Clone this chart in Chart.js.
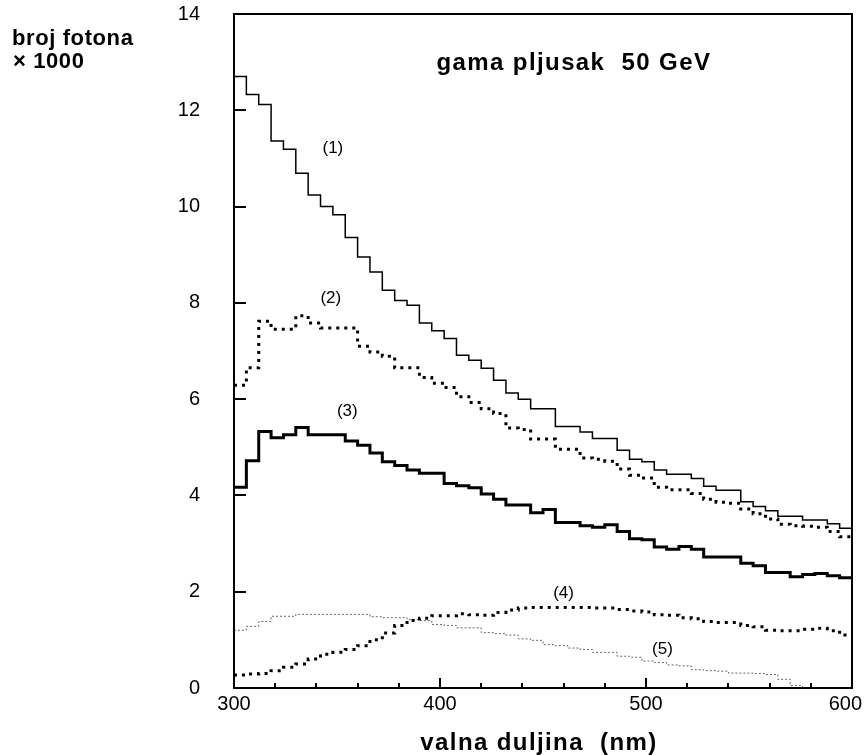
<!DOCTYPE html>
<html lang="hr">
<head>
    <meta charset="UTF-8">
    <title>gama pljusak 50 GeV</title>
    <script src="https://cdn.jsdelivr.net/npm/chart.js"></script>
    <style>
        html, body { margin: 0; padding: 0; background: #fff; }
        #chartContainer { width: 864px; height: 755px; }
    </style>
</head>
<body>
    <div id="chartContainer">
        <canvas id="chartCanvas" width="864" height="755"></canvas>
    </div>

    <script>
        // bin edges (nm), 6 nm wide bins
        const wavelength = [300, 306, 312, 318, 324, 330, 336, 342, 348, 354,
                            360, 366, 372, 378, 384, 390, 396, 402, 408, 414,
                            420, 426, 432, 438, 444, 450, 456, 462, 468, 474,
                            480, 486, 492, 498, 504, 510, 516, 522, 528, 534,
                            540, 546, 552, 558, 564, 570, 576, 582, 588, 594, 600];

        // number of photons x1000 per bin
        const photons1 = [12.70, 12.33, 12.12, 11.36, 11.19, 10.69, 10.24, 10.00, 9.83, 9.36,
                          8.95, 8.64, 8.26, 8.05, 7.95, 7.58, 7.42, 7.26, 6.91, 6.81,
                          6.64, 6.39, 6.13, 6.00, 5.80, 5.80, 5.43, 5.43, 5.32, 5.18,
                          5.18, 4.94, 4.75, 4.70, 4.53, 4.44, 4.44, 4.35, 4.19, 4.11,
                          4.11, 3.87, 3.77, 3.68, 3.57, 3.57, 3.49, 3.49, 3.41, 3.32];
        const photons2 = [6.29, 6.65, 7.62, 7.45, 7.45, 7.73, 7.58, 7.48, 7.48, 7.48,
                          7.10, 6.98, 6.89, 6.65, 6.65, 6.45, 6.33, 6.24, 6.05, 5.93,
                          5.80, 5.70, 5.40, 5.37, 5.17, 5.17, 4.96, 4.96, 4.78, 4.75,
                          4.71, 4.55, 4.42, 4.36, 4.17, 4.12, 4.12, 4.04, 3.92, 3.86,
                          3.84, 3.72, 3.62, 3.51, 3.40, 3.37, 3.36, 3.34, 3.25, 3.14];
        const photons3 = [4.17, 4.72, 5.33, 5.20, 5.26, 5.41, 5.26, 5.26, 5.26, 5.13,
                          5.04, 4.88, 4.70, 4.62, 4.53, 4.46, 4.46, 4.25, 4.20, 4.16,
                          4.03, 3.92, 3.80, 3.80, 3.64, 3.71, 3.44, 3.44, 3.37, 3.34,
                          3.39, 3.25, 3.10, 3.08, 2.93, 2.88, 2.94, 2.88, 2.72, 2.72,
                          2.72, 2.59, 2.54, 2.40, 2.40, 2.31, 2.36, 2.38, 2.33, 2.29];
        const photons4 = [0.27, 0.29, 0.30, 0.36, 0.43, 0.50, 0.60, 0.70, 0.74, 0.80,
                          0.88, 1.00, 1.14, 1.30, 1.40, 1.45, 1.50, 1.50, 1.54, 1.52,
                          1.51, 1.57, 1.62, 1.66, 1.67, 1.67, 1.67, 1.67, 1.67, 1.66,
                          1.66, 1.63, 1.60, 1.58, 1.52, 1.51, 1.46, 1.44, 1.38, 1.36,
                          1.36, 1.30, 1.27, 1.20, 1.19, 1.19, 1.22, 1.24, 1.19, 1.10];
        const photons5 = [1.20, 1.28, 1.38, 1.49, 1.49, 1.53, 1.53, 1.53, 1.53, 1.53,
                          1.53, 1.48, 1.46, 1.46, 1.42, 1.40, 1.32, 1.30, 1.25, 1.25,
                          1.15, 1.13, 1.10, 1.02, 0.99, 0.90, 0.88, 0.83, 0.80, 0.74,
                          0.74, 0.66, 0.64, 0.56, 0.53, 0.48, 0.46, 0.38, 0.36, 0.35,
                          0.31, 0.31, 0.30, 0.28, 0.18, 0.05, 0, 0, 0, 0];

        // curve labels and where they sit (nm, photons x1000)
        const curveLabels = ['(1)', '(2)', '(3)', '(4)', '(5)'];
        const labelNm = [348, 347, 355, 460, 508];
        const labelVal = [11.22, 8.1, 5.75, 1.96, 0.81];

        const chartTitle = 'gama pljusak  50 GeV';
        const xTitle = 'valna duljina  (nm)';
        const yTitle = ['broj fotona', '\u00d7 1000'];
        const minorStep = 20;

        const fontFamily = 'Arial, "Liberation Sans", sans-serif';
        Chart.defaults.font.family = fontFamily;
        Chart.defaults.color = '#000';

        function histPoints(values) {
            // one point per bin edge, last value repeated at the closing edge
            return wavelength.map((w, i) => ({ x: w, y: values[Math.min(i, values.length - 1)] }));
        }

        function setSpacing(ctx, px) {
            if ('letterSpacing' in ctx) ctx.letterSpacing = px + 'px';
        }

        const decorPlugin = {
            id: 'decor',
            afterDatasetsDraw(chart) {
                const { ctx, chartArea: a, scales: { x, y } } = chart;
                ctx.save();
                ctx.strokeStyle = '#000';
                ctx.lineWidth = 2;
                ctx.strokeRect(a.left, a.top, a.right - a.left, a.bottom - a.top);

                // inward ticks
                ctx.beginPath();
                y.ticks.forEach(t => {
                    const py = Math.round(y.getPixelForValue(t.value));
                    ctx.moveTo(a.left, py);
                    ctx.lineTo(a.left + 12, py);
                });
                for (let v = x.min; v <= x.max; v += minorStep) {
                    const px = Math.round(x.getPixelForValue(v));
                    const len = v % 100 === 0 ? 10 : 5;
                    ctx.moveTo(px, a.bottom);
                    ctx.lineTo(px, a.bottom - len);
                }
                ctx.stroke();

                // x tick labels
                ctx.fillStyle = '#000';
                ctx.font = '20px ' + fontFamily;
                ctx.textAlign = 'center';
                ctx.textBaseline = 'alphabetic';
                x.ticks.forEach(t => {
                    const label = String(t.value);
                    const w = ctx.measureText(label).width;
                    let px = x.getPixelForValue(t.value);
                    px = Math.min(px, chart.width - 2 - w / 2);
                    ctx.fillText(label, px, a.bottom + 22);
                });

                // curve labels
                ctx.font = '17px ' + fontFamily;
                ctx.textBaseline = 'middle';
                curveLabels.forEach((txt, i) => {
                    ctx.fillText(txt, x.getPixelForValue(labelNm[i]), y.getPixelForValue(labelVal[i]));
                });

                // title inside the frame
                ctx.font = 'bold 24px ' + fontFamily;
                setSpacing(ctx, 1.4);
                ctx.fillText(chartTitle, x.getPixelForValue(465), y.getPixelForValue(12.98));

                // x axis title
                ctx.textBaseline = 'alphabetic';
                ctx.fillText(xTitle, (a.left + a.right) / 2 - 4, 750);

                // y axis title, horizontal at top left
                ctx.textAlign = 'left';
                ctx.font = 'bold 22px ' + fontFamily;
                setSpacing(ctx, 0.6);
                ctx.fillText(yTitle[0], 12, 45);
                ctx.fillText(yTitle[1], 13, 68);
                ctx.restore();
            }
        };

        const ctx = document.getElementById('chartCanvas').getContext('2d');
        new Chart(ctx, {
            type: 'line',
            data: {
                datasets: [
                    { label: '(1)', data: histPoints(photons1), borderColor: '#000', borderWidth: 1.5 },
                    { label: '(2)', data: histPoints(photons2), borderColor: '#000', borderWidth: 3, borderDash: [3, 5] },
                    { label: '(3)', data: histPoints(photons3), borderColor: '#000', borderWidth: 3 },
                    { label: '(4)', data: histPoints(photons4), borderColor: '#000', borderWidth: 3, borderDash: [3, 5] },
                    { label: '(5)', data: histPoints(photons5), borderColor: '#666', borderWidth: 1, borderDash: [2, 2] }
                ].map(d => Object.assign(d, { stepped: 'before', pointRadius: 0, fill: false, tension: 0 }))
            },
            options: {
                responsive: false,
                animation: false,
                devicePixelRatio: 1,
                layout: { padding: { top: 14, right: 12, bottom: 0, left: 0 } },
                plugins: {
                    legend: { display: false },
                    tooltip: { enabled: false }
                },
                scales: {
                    x: {
                        type: 'linear',
                        min: 300,
                        max: 600,
                        ticks: { stepSize: 100, display: false },
                        grid: { display: false },
                        border: { display: false },
                        afterFit(s) { s.height = 67; s.paddingLeft = 0; s.paddingRight = 0; }
                    },
                    y: {
                        min: 0,
                        max: 14,
                        ticks: { stepSize: 2, padding: 26, color: '#000', font: { size: 20 } },
                        grid: { display: false },
                        border: { display: false },
                        afterFit(s) { s.width = 234; s.paddingTop = 0; s.paddingBottom = 0; }
                    }
                }
            },
            plugins: [decorPlugin]
        });
    </script>
</body>
</html>
